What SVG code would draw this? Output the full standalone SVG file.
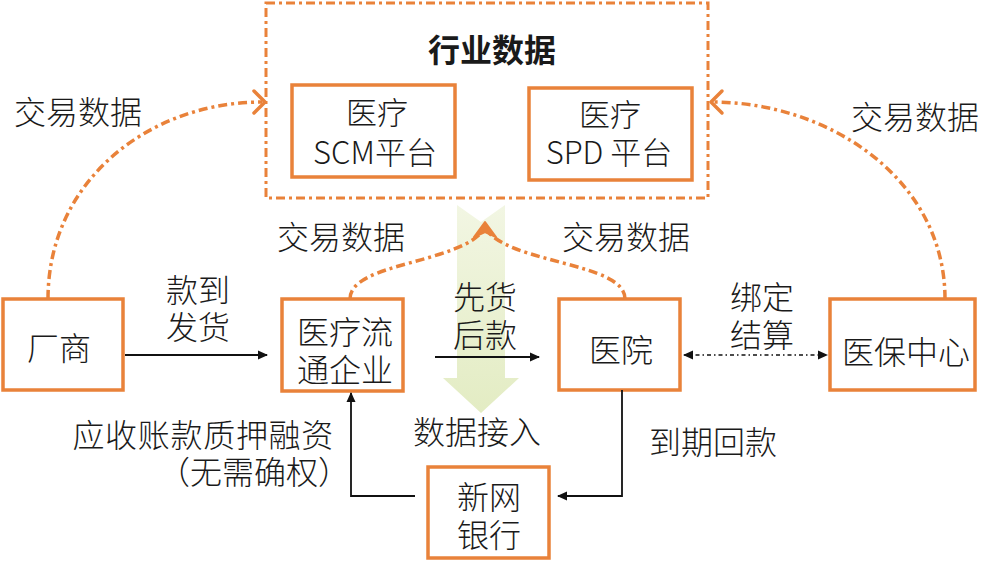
<svg xmlns="http://www.w3.org/2000/svg" width="981" height="561" viewBox="0 0 981 561">
<defs>
<style>
.t{font-family:"Noto Sans CJK SC","Noto Sans",sans-serif;font-size:32px;font-weight:300;fill:#1a1a1a}
.m{text-anchor:middle}
.e{text-anchor:end}
.box{fill:#fff;stroke:#e9823a;stroke-width:3.5}
.dbox{fill:none;stroke:#e9823a;stroke-width:3;stroke-dasharray:9 4 3 4}
.curve{fill:none;stroke:#e9823a;stroke-width:3.5;stroke-dasharray:9 4 3 4}
.chev{fill:none;stroke:#e9823a;stroke-width:3.5;stroke-linecap:round;stroke-linejoin:round}
.ln{fill:none;stroke:#111;stroke-width:1.8}
.dot{fill:none;stroke:#111;stroke-width:1.6;stroke-dasharray:4 3 1.5 3}
</style>
<marker id="ah" viewBox="0 0 10 10" refX="9" refY="5" markerWidth="10" markerHeight="10" markerUnits="userSpaceOnUse" orient="auto-start-reverse">
<path d="M0,0.5 L10,5 L0,9.5 Z" fill="#111"/>
</marker>
<linearGradient id="gg" x1="0" y1="0" x2="0" y2="1">
<stop offset="0" stop-color="#f2f6e3"/>
<stop offset="1" stop-color="#e3ecc3"/>
</linearGradient>
</defs>

<polygon id="data-access-band" points="457,205 481,222 505,205 505,378 519,378 481,413 443,378 457,378" fill="url(#gg)"/>

<g id="industry-data">
<rect class="dbox" x="266" y="3" width="442" height="195"/>
<text class="t m" x="492" y="61.5" style="font-weight:700">行业数据</text>
</g>
<g id="scm">
<rect class="box" x="292" y="85" width="163" height="92"/>
<text class="t m" x="377" y="124" font-size="31" style="font-size:31px">医疗</text>
<text class="t m" x="375" y="164" style="font-size:31px">SCM平台</text>
</g>
<g id="spd">
<rect class="box" x="529" y="88" width="163" height="92"/>
<text class="t m" x="610" y="126" style="font-size:31px">医疗</text>
<text class="t m" x="609" y="164" style="font-size:31px">SPD 平台</text>
</g>
<g id="vendor">
<rect class="box" x="3" y="299" width="120" height="91"/>
<text class="t m" x="59" y="359.5">厂商</text>
</g>
<g id="distributor">
<rect class="box" x="282" y="299" width="121" height="92"/>
<text class="t m" x="345" y="343.5">医疗流</text>
<text class="t m" x="345" y="381.5">通企业</text>
</g>
<g id="hospital">
<rect class="box" x="559" y="299" width="121" height="91"/>
<text class="t m" x="621" y="362">医院</text>
</g>
<g id="insurance">
<rect class="box" x="830" y="299" width="145" height="91"/>
<text class="t m" x="906" y="364">医保中心</text>
</g>
<g id="bank">
<rect class="box" x="428" y="467" width="121" height="91"/>
<text class="t m" x="489" y="508.5">新网</text>
<text class="t m" x="489" y="546.5">银行</text>
</g>

<g id="connectors">
<path class="curve" d="M48,299 C48,180 150,102 262,102"/>
<path class="chev" d="M254,91 L265,102 L254,113"/>
<path class="curve" d="M945,299 C945,180 830,102 712,102"/>
<path class="chev" d="M722,91 L711,102 L722,113"/>
<path class="curve" d="M350,299 C350,262 462,264 485,228"/>
<path class="curve" d="M625,299 C625,262 508,264 485,228"/>
<path d="M474,237 L485,222 L496,237 L485,232 Z" fill="#e9823a" stroke="#e9823a" stroke-width="2" stroke-linejoin="round"/>
<line class="ln" x1="125" y1="355" x2="267" y2="355" marker-end="url(#ah)"/>
<line class="ln" x1="435" y1="357" x2="539" y2="357" marker-end="url(#ah)"/>
<line class="dot" x1="684" y1="355" x2="827" y2="355" marker-start="url(#ah)" marker-end="url(#ah)"/>
<polyline class="ln" points="622,390 622,496 558,496" marker-end="url(#ah)"/>
<polyline class="ln" points="415,496 351,496 351,393" marker-end="url(#ah)"/>
</g>

<g id="labels">
<text class="t" x="14" y="123.5">交易数据</text>
<text class="t" x="851" y="128.5">交易数据</text>
<text class="t" x="277" y="248.5">交易数据</text>
<text class="t" x="562" y="248.5">交易数据</text>
<text class="t m" x="198" y="301.5">款到</text>
<text class="t m" x="198" y="338.5">发货</text>
<text class="t m" x="485" y="308.5">先货</text>
<text class="t m" x="485" y="346.5">后款</text>
<text class="t m" x="762" y="308.5">绑定</text>
<text class="t m" x="762" y="346.5">结算</text>
<text class="t e" x="334" y="446.5" style="letter-spacing:0.7px">应收账款质押融资</text>
<text class="t e" x="350" y="483.5">（无需确权）</text>
<text class="t" x="413" y="443.5">数据接入</text>
<text class="t" x="649" y="453.5">到期回款</text>
</g>
</svg>
